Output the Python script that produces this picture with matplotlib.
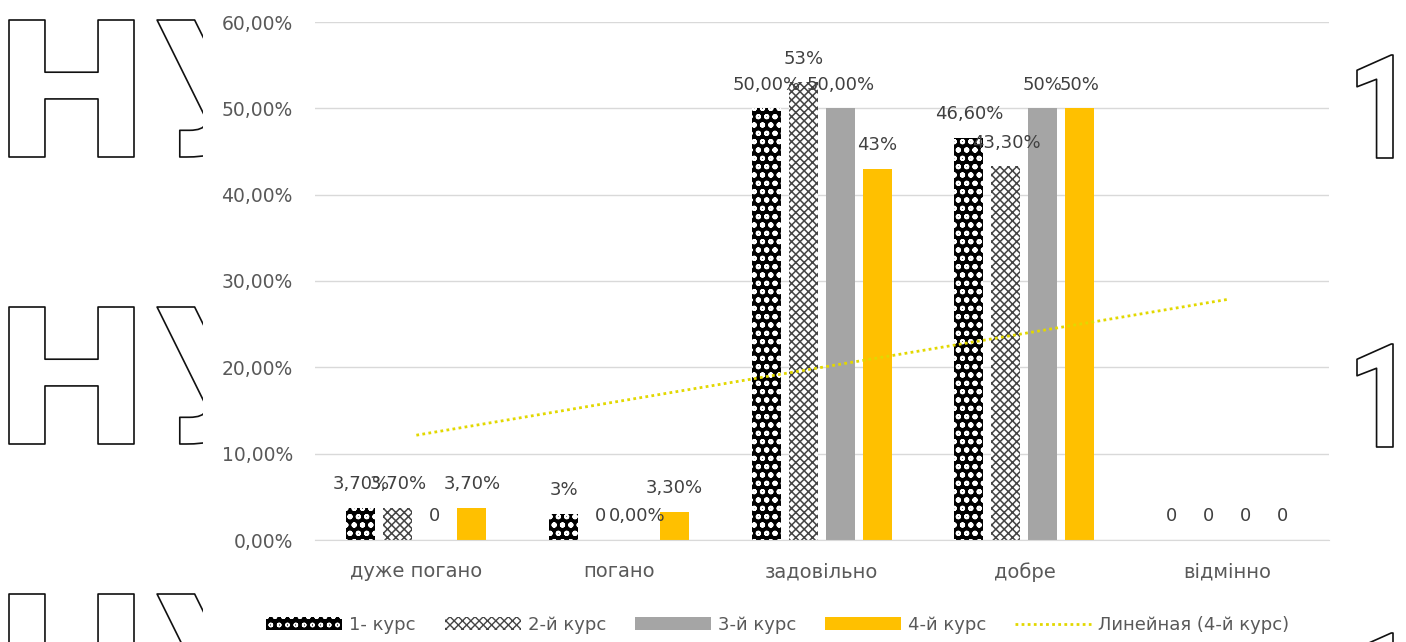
import numpy as np
import matplotlib
matplotlib.use("Agg")
import matplotlib.pyplot as plt
from matplotlib.textpath import TextPath
from matplotlib.patches import PathPatch, Rectangle
from matplotlib.font_manager import FontProperties
from matplotlib.transforms import Affine2D
from matplotlib.ticker import FuncFormatter

# survey answers, share of students per course (%)
categories = ["дуже погано", "погано", "задовільно", "добре", "відмінно"]
course_names = ["1- курс", "2-й курс", "3-й курс", "4-й курс"]
course1 = [3.7, 3.0, 50.0, 46.6, 0.0]
course2 = [3.7, 0.0, 53.0, 43.3, 0.0]
course3 = [0.0, 0.0, 50.0, 50.0, 0.0]
course4 = [3.7, 3.3, 43.0, 50.0, 0.0]
# data labels as they were typed in the workbook
labels1 = ["3,70%", "3%", "50,00%", "46,60%", "0"]
labels2 = ["3,70%", "0", "53%", "43,30%", "0"]
labels3 = ["0", "0,00%", "50,00%", "50%", "0"]
labels4 = ["3,70%", "3,30%", "43%", "50%", "0"]
trend_name = "Линейная (4-й курс)"

W, H = 1406, 642
plt.rcParams["font.family"] = ["DejaVu Sans"]

fig = plt.figure(figsize=(W / 100, H / 100), dpi=100)
fig.patch.set_facecolor("white")


def outline_text(text, ref, x0, x1, y0, y1, weight="bold", family="DejaVu Sans"):
    # outlined letters placed by pixel box of the reference glyph
    fp = FontProperties(family=family, weight=weight)
    path = TextPath((0, 0), text, size=100, prop=fp)
    bb = TextPath((0, 0), ref, size=100, prop=fp).get_extents()
    sx = (x1 - x0) / bb.width
    sy = (y1 - y0) / bb.height
    tr = (Affine2D().translate(-bb.x0, -bb.y0).scale(sx, sy)
          .translate(x0, H - y1).scale(1 / W, 1 / H) + fig.transFigure)
    fig.add_artist(PathPatch(path, fc="white", ec="#111111", lw=1.2, joinstyle="round",
                             transform=tr, zorder=-3))


# background stamp
for top in [20, 307, 594]:
    outline_text("НУ", "Н", 9, 134, top, top + 137)
for top in [55, 344, 633]:
    outline_text("1", "1", 1357, 1393, top, top + 103, family="Roboto")
fig.add_artist(Rectangle((203 / W, 0), (1352 - 203) / W, 1, transform=fig.transFigure,
                         fc="white", ec="none", zorder=-2))

ax = fig.add_axes([315 / W, 1 - 540 / H, 1013.5 / W, 518 / H])
ax.set_facecolor("none")

x = np.arange(len(categories))
step = 0.1825
width = 0.143
series = [course1, course2, course3, course4]
texts = [labels1, labels2, labels3, labels4]
styles = [
    (dict(color="black", edgecolor="white", hatch="oo", linewidth=0), 1.4),
    (dict(color="white", edgecolor="#444444", hatch="xxxx", linewidth=0), 1.1),
    (dict(color="#A5A5A5", linewidth=0), 1.0),
    (dict(color="#FFC000", linewidth=0), 1.0),
]

handles = []
for i, (vals, labs, (st, hlw)) in enumerate(zip(series, texts, styles)):
    pos = x + (i - 1.5) * step
    with plt.rc_context({"hatch.linewidth": hlw}):
        bars = ax.bar(pos, vals, width, label=course_names[i], zorder=2, **st)
    handles.append(bars)
    for px, v, t in zip(pos, vals, labs):
        ax.annotate(t, (px, v), xytext=(0, 17), textcoords="offset points",
                    ha="center", va="center", fontsize=13, color="#404040", zorder=4)

# linear trend of the 4th course
k, b = np.polyfit(x + 1, course4, 1)
trend, = ax.plot(x, k * (x + 1) + b, color="#E2D800", lw=2, ls=(0, (1, 1.2)),
                 label=trend_name, zorder=3)
handles.append(trend)

ax.set_xlim(-0.5, len(categories) - 0.5)
ax.set_ylim(0, 60)
ax.set_yticks(np.arange(0, 61, 10))
ax.yaxis.set_major_formatter(FuncFormatter(lambda v, p: f"{v:.2f}".replace(".", ",") + "%"))
ax.set_xticks(x)
ax.set_xticklabels(categories)
ax.tick_params(axis="y", length=0, pad=16, labelsize=13.5, labelcolor="#595959")
ax.tick_params(axis="x", length=0, pad=16, labelsize=14, labelcolor="#595959")
ax.grid(axis="y", color="#D9D9D9", lw=1, zorder=0)
ax.set_axisbelow(True)
for s in ["top", "right", "left"]:
    ax.spines[s].set_visible(False)
ax.spines["bottom"].set_color("#D9D9D9")

fig.legend(handles=handles, loc="center", bbox_to_anchor=(778 / W, 1 - 625 / H), ncol=5,
           frameon=False, fontsize=13, labelcolor="#595959", handlelength=4.2,
           handleheight=0.7, columnspacing=1.6, handletextpad=0.4)

fig.savefig("out.png", dpi=100, facecolor="white")
